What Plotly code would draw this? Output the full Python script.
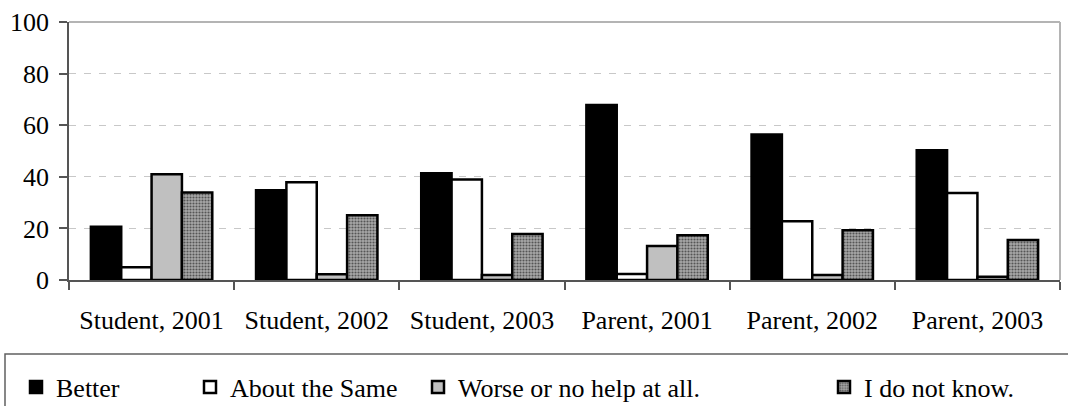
import plotly.graph_objects as go

# Survey responses (%) by respondent group and year
categories = ["Student, 2001", "Student, 2002", "Student, 2003",
              "Parent, 2001", "Parent, 2002", "Parent, 2003"]
better = [20.6, 34.8, 41.4, 67.8, 56.4, 50.3]
about_same = [4.9, 37.9, 39.0, 2.3, 22.8, 33.7]
worse = [41.0, 2.2, 1.9, 13.2, 1.9, 1.3]
dont_know = [33.9, 25.1, 17.8, 17.3, 19.3, 15.5]

series_names = ["Better", "About the Same", "Worse or no help at all.", "I do not know."]
y_ticks = [0, 20, 40, 60, 80, 100]

FONT = "Liberation Serif"
FS = 26

W, H = 1068, 406
L, R, T, B = 69, 8, 22, 126
pw, ph = W - L - R, H - T - B


def px_x(p):
    return (p - L) / pw


def px_y(p):
    return (H - B - p) / ph


fig = go.Figure()

styles = [
    dict(color="#000000"),
    dict(color="#ffffff"),
    dict(color="#c0c0c0"),
    dict(color="#8c8c8c",
         pattern=dict(shape=".", size=3, solidity=0.4,
                      fgcolor="#555555", bgcolor="#a8a8a8", fillmode="replace")),
]
values = [better, about_same, worse, dont_know]
legend_ids = ["legend", "legend2", "legend3", "legend4"]

for name, vals, st, lg in zip(series_names, values, styles, legend_ids):
    fig.add_trace(go.Bar(
        x=categories, y=vals, name=name, legend=lg,
        marker=dict(line=dict(color="#000000", width=2.5), **st),
    ))

# legend entries placed along the bottom box (text start positions in px)
text_starts = [56, 230, 458, 864]
legend_layout = {}
for lg, ts in zip(legend_ids, text_starts):
    legend_layout[lg] = dict(
        x=px_x(ts - 40), xanchor="left",
        y=px_y(387), yanchor="middle",
        orientation="h", bgcolor="rgba(0,0,0,0)", borderwidth=0,
        font=dict(family=FONT, size=FS, color="#000000"),
        itemclick=False, itemdoubleclick=False,
    )

fig.update_layout(
    width=W, height=H,
    margin=dict(l=L, r=R, t=T, b=B, pad=0, autoexpand=False),
    paper_bgcolor="#ffffff", plot_bgcolor="#ffffff",
    barmode="group", bargap=0.265, bargroupgap=0,
    font=dict(family=FONT, size=FS, color="#000000"),
    showlegend=True,
    **legend_layout,
)

fig.update_xaxes(
    type="category", tickson="boundaries",
    ticks="outside", ticklen=8, tickwidth=1.5, tickcolor="#555555",
    ticklabelstandoff=16,
    showline=True, linecolor="#555555", linewidth=1.5,
    showgrid=False, zeroline=False,
    tickfont=dict(family=FONT, size=FS, color="#000000"),
)
fig.update_yaxes(
    range=[0, 100], tickvals=y_ticks,
    ticks="outside", ticklen=8, tickwidth=1.5, tickcolor="#555555",
    ticklabelstandoff=5,
    showline=True, linecolor="#555555", linewidth=1.5,
    showgrid=True, gridcolor="#c8c8c8", gridwidth=1, griddash="7px,8px",
    zeroline=False,
    tickfont=dict(family=FONT, size=FS, color="#000000"),
)

# plot-area frame (top and right edges) and the legend box
fig.add_shape(type="line", xref="paper", yref="paper", x0=0, x1=1, y0=1, y1=1,
              line=dict(color="#b4b4b4", width=2), layer="above")
fig.add_shape(type="line", xref="paper", yref="paper", x0=1, x1=1, y0=0, y1=1,
              line=dict(color="#b4b4b4", width=2), layer="above")
fig.add_shape(type="rect", xref="paper", yref="paper",
              x0=px_x(5), x1=px_x(1100), y0=px_y(354), y1=px_y(440),
              line=dict(color="#606060", width=1.5), fillcolor="rgba(0,0,0,0)",
              layer="above")

fig.write_html("out.html")
